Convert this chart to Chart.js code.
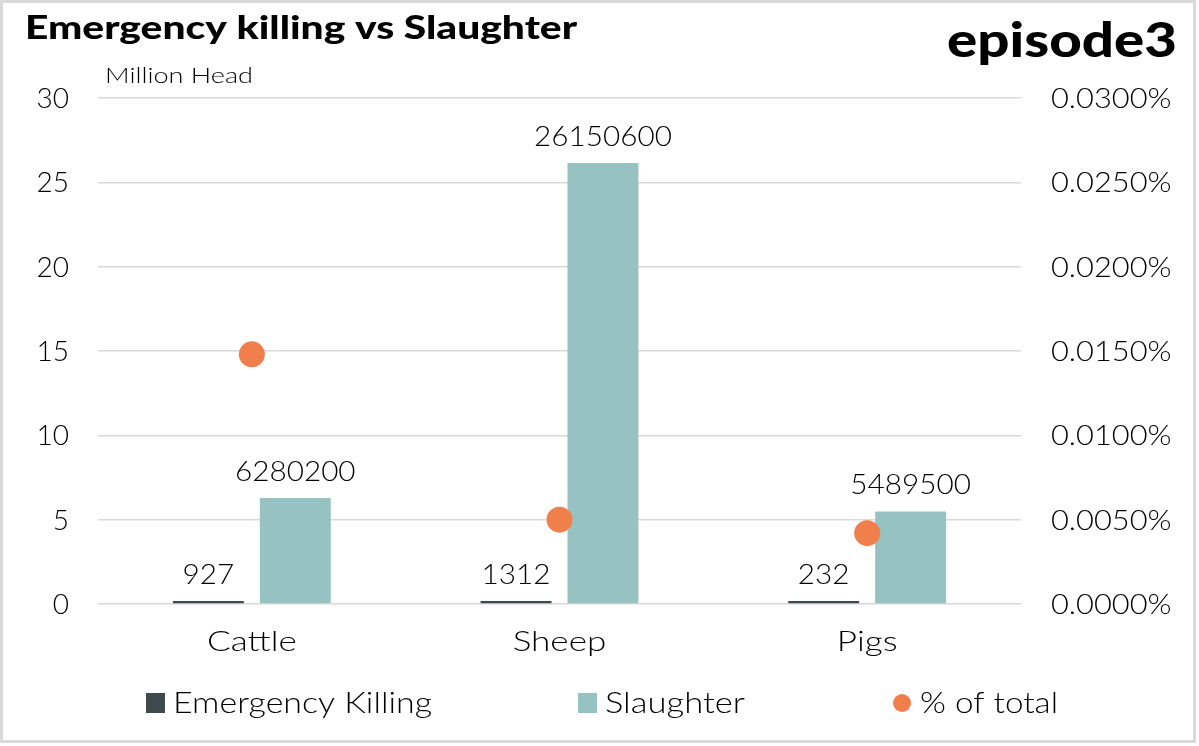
<!DOCTYPE html>
<html>
<head>
<meta charset="utf-8">
<script src="https://cdn.jsdelivr.net/npm/chart.js@4"></script>
<style>
html,body{margin:0;padding:0;background:#fff;}
#wrap{width:1199px;height:746px;position:relative;}
</style>
</head>
<body>
<div id="wrap"><canvas id="c" width="1199" height="746"></canvas></div>
<script>
const categories = ['Cattle', 'Sheep', 'Pigs'];
const emergencyKilling = [927, 1312, 232];
const slaughter = [6280200, 26150600, 5489500];
const pctOfTotal = [0.0148, 0.0050, 0.0042];
const leftTicks = [0, 5, 10, 15, 20, 25, 30];
const rightTicks = ['0.0000%', '0.0050%', '0.0100%', '0.0150%', '0.0200%', '0.0250%', '0.0300%'];

const FONT = 'Lato, "Noto Sans", sans-serif';
const W = '300 ';
const C_DARK = '#3f4a4c';
const C_TEAL = '#96c2c2';
const C_ORANGE = '#f07f4b';
const CAP = 0.7165;

function txt(ctx, s, x, y, align, font, sx, targetW) {
  ctx.save();
  ctx.font = font;
  ctx.textAlign = align;
  ctx.textBaseline = 'alphabetic';
  if (targetW) sx = targetW / ctx.measureText(s).width;
  ctx.translate(x, y);
  ctx.scale(sx, 1);
  ctx.fillText(s, 0, 0);
  ctx.restore();
}

const decor = {
  id: 'decor',
  afterDatasetsDraw(chart) {
    const ctx = chart.ctx;
    ctx.save();
    ctx.fillStyle = '#000';
    [0, 1].forEach(di => {
      const meta = chart.getDatasetMeta(di);
      const ds = chart.data.datasets[di];
      meta.data.forEach((el, i) => {
        const top = Math.min(el.y, el.base);
        txt(ctx, String(ds.data[i]), el.x, top - 17, 'center', W + '27px ' + FONT, 1.1);
      });
    });
    ctx.restore();
  },
  afterDraw(chart) {
    const ctx = chart.ctx;
    const sx = chart.scales.x, sy = chart.scales.y, sy1 = chart.scales.y1;
    ctx.save();
    ctx.fillStyle = '#000';
    leftTicks.forEach(v => {
      const py = sy.getPixelForValue(v * 1000000);
      txt(ctx, String(v), 69, py + 28 * CAP / 2, 'right', W + '28px ' + FONT, 1.0);
    });
    rightTicks.forEach(t => {
      const py = sy1.getPixelForValue(parseFloat(t));
      txt(ctx, t, 1051, py + 28 * CAP / 2, 'left', W + '28px ' + FONT, 1.1);
    });
    categories.forEach((c, i) => {
      const px = sx.getPixelForValue(i);
      txt(ctx, c, px, 651, 'center', W + '27px ' + FONT, 1.3);
    });
    ctx.strokeStyle = '#d9d9d9';
    ctx.lineWidth = 3;
    ctx.strokeRect(1.5, 1.5, 1193, 740);
    txt(ctx, 'Emergency killing vs Slaughter', 25, 39, 'left', '900 32px ' + FONT, 1, 552);
    txt(ctx, 'episode3', 947, 57, 'left', '900 48px ' + FONT, 1, 230);
    txt(ctx, 'Million Head', 105, 83, 'left', W + '21px ' + FONT, 1, 148);
    const ds = chart.data.datasets;
    ctx.fillStyle = C_DARK;
    ctx.fillRect(146, 693, 19, 20);
    ctx.fillStyle = C_TEAL;
    ctx.fillRect(578, 693, 19, 20);
    ctx.fillStyle = C_ORANGE;
    ctx.beginPath();
    ctx.arc(902, 703, 9, 0, Math.PI * 2);
    ctx.fill();
    ctx.fillStyle = '#000';
    txt(ctx, ds[0].label, 173, 713, 'left', W + '29px ' + FONT, 1, 259);
    txt(ctx, ds[1].label, 605, 713, 'left', W + '29px ' + FONT, 1, 140);
    txt(ctx, ds[2].label, 920, 713, 'left', W + '29px ' + FONT, 1, 138);
    ctx.restore();
  }
};

new Chart(document.getElementById('c'), {
  type: 'bar',
  data: {
    labels: categories,
    datasets: [
      { label: 'Emergency Killing', data: emergencyKilling, backgroundColor: C_DARK,
        yAxisID: 'y', order: 2, minBarLength: 3, categoryPercentage: 0.565, barPercentage: 0.816 },
      { label: 'Slaughter', data: slaughter, backgroundColor: C_TEAL,
        yAxisID: 'y', order: 2, categoryPercentage: 0.565, barPercentage: 0.816 },
      { label: '% of total', type: 'line', data: pctOfTotal, showLine: false,
        pointRadius: 13, pointHoverRadius: 13, pointBackgroundColor: C_ORANGE, pointBorderWidth: 0,
        borderColor: C_ORANGE, backgroundColor: C_ORANGE, yAxisID: 'y1', order: 0 }
    ]
  },
  options: {
    responsive: false,
    animation: false,
    events: [],
    layout: { padding: { top: 98, left: 0, right: 0, bottom: 0 } },
    plugins: { legend: { display: false }, title: { display: false }, tooltip: { enabled: false } },
    scales: {
      x: {
        grid: { display: false, drawTicks: false },
        border: { display: false },
        ticks: { display: false },
        afterFit(s) { s.height = 142; }
      },
      y: {
        position: 'left',
        min: 0, max: 30000000,
        afterBuildTicks(s) { s.ticks = leftTicks.map(v => ({ value: v * 1000000 })); },
        ticks: { display: false },
        grid: { color: '#d9d9d9', lineWidth: 1.5, drawTicks: false },
        border: { display: false },
        afterFit(s) { s.width = 98; }
      },
      y1: {
        position: 'right',
        min: 0, max: 0.03,
        afterBuildTicks(s) { s.ticks = rightTicks.map(t => ({ value: parseFloat(t) })); },
        ticks: { display: false },
        grid: { display: false, drawTicks: false },
        border: { display: false },
        afterFit(s) { s.width = 178; }
      }
    }
  },
  plugins: [decor]
});
</script>
</body>
</html>
